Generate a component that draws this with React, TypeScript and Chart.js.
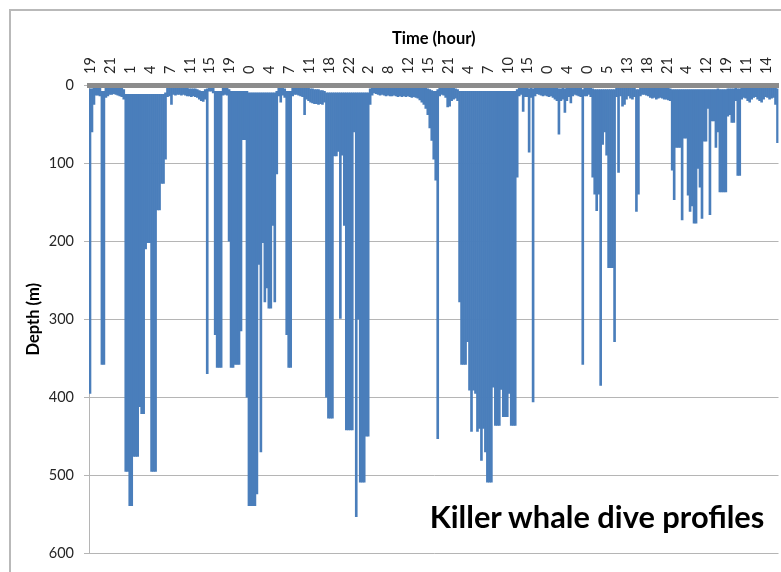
import React, { useEffect, useRef } from 'react';
import { Chart, registerables } from 'chart.js';

Chart.register(...registerables);

// Hour labels shown along the top axis (one every 10 samples)
const hourLabels: string[] = [
  '19', '21', '1', '4', '7', '11', '15', '19', '0', '4', '7', '11', '18', '22', '2', '8', '12', '15',
  '21', '4', '7', '10', '15', '0', '4', '0', '5', '13', '18', '21', '4', '12', '19', '11', '14',
];
const samplesPerLabel = 10;

// Maximum depth (m) reached within each sample window
const depthBottom: number[] = [
  395, 60, 25, 13, 13, 14, 358, 358, 16, 14,
  12, 12, 11, 12, 13, 14, 15, 18, 495, 495,
  539, 539, 476, 476, 476, 412, 421, 421, 210, 202,
  202, 495, 495, 495, 160, 160, 126, 126, 95, 15,
  14, 25, 12, 13, 12, 12, 13, 12, 13, 14,
  14, 15, 14, 15, 16, 18, 20, 21, 18, 370,
  8, 8, 10, 320, 362, 362, 362, 13, 12, 13,
  200, 362, 362, 358, 358, 358, 315, 70, 70, 400,
  539, 539, 539, 539, 524, 230, 470, 202, 278, 260,
  286, 286, 180, 278, 114, 14, 22, 13, 16, 320,
  362, 362, 14, 12, 12, 13, 14, 15, 38, 18,
  20, 22, 23, 24, 24, 25, 24, 25, 22, 400,
  427, 427, 427, 91, 91, 85, 299, 90, 180, 442,
  442, 442, 442, 60, 553, 300, 509, 509, 509, 450,
  450, 25, 13, 10, 11, 12, 13, 12, 13, 14,
  13, 14, 14, 13, 14, 15, 14, 15, 14, 15,
  14, 15, 16, 15, 16, 17, 19, 22, 25, 30,
  38, 55, 71, 95, 122, 453, 14, 12, 13, 16,
  28, 27, 20, 18, 17, 20, 278, 358, 358, 358,
  329, 391, 444, 391, 395, 444, 440, 481, 440, 470,
  509, 509, 509, 387, 436, 436, 436, 390, 425, 425,
  425, 395, 436, 436, 436, 118, 14, 12, 34, 15,
  15, 86, 16, 406, 14, 11, 12, 13, 14, 13,
  14, 15, 14, 16, 18, 20, 63, 20, 18, 35,
  20, 15, 23, 14, 12, 13, 14, 15, 358, 14,
  14, 12, 15, 118, 140, 161, 140, 385, 76, 60,
  90, 234, 234, 234, 329, 15, 112, 14, 27, 25,
  18, 14, 17, 18, 15, 162, 140, 14, 12, 12,
  13, 14, 16, 17, 16, 18, 17, 16, 17, 18,
  18, 19, 20, 109, 147, 80, 80, 80, 173, 68,
  68, 141, 162, 155, 177, 177, 107, 131, 171, 72,
  72, 30, 166, 46, 46, 80, 60, 137, 137, 137,
  137, 40, 38, 48, 48, 20, 116, 116, 18, 16,
  17, 20, 22, 18, 16, 15, 18, 20, 22, 18,
  15, 16, 18, 17, 16, 25, 74,
];

// Shallowest depth (m) within each sample window
const depthTop: number[] = [
  5, 5, 3, 2, 2, 2, 8, 8, 3, 3,
  2, 2, 2, 2, 2, 3, 4, 6, 12, 12,
  12, 12, 12, 12, 12, 12, 12, 12, 12, 12,
  12, 12, 12, 12, 12, 12, 12, 12, 10, 3,
  2, 2, 3, 3, 4, 4, 4, 4, 4, 4,
  5, 5, 5, 5, 6, 7, 8, 8, 6, 5,
  1, 1, 2, 8, 8, 8, 8, 4, 3, 3,
  6, 8, 8, 8, 8, 8, 8, 8, 8, 8,
  10, 10, 10, 10, 10, 10, 10, 10, 10, 10,
  10, 10, 10, 10, 8, 3, 3, 3, 5, 8,
  8, 8, 3, 2, 2, 2, 2, 3, 3, 4,
  4, 5, 5, 6, 6, 6, 7, 7, 8, 10,
  10, 10, 10, 10, 10, 10, 10, 10, 10, 10,
  10, 10, 10, 10, 10, 10, 10, 10, 10, 10,
  10, 5, 2, 1, 1, 1, 1, 1, 1, 1,
  1, 1, 1, 1, 1, 1, 1, 1, 1, 2,
  2, 2, 2, 2, 2, 3, 3, 3, 4, 4,
  5, 6, 7, 8, 8, 6, 3, 2, 2, 3,
  3, 3, 3, 4, 5, 6, 8, 8, 8, 8,
  8, 8, 8, 8, 8, 8, 8, 8, 8, 8,
  8, 8, 8, 8, 8, 8, 8, 8, 8, 8,
  8, 8, 8, 8, 8, 6, 3, 2, 2, 3,
  3, 5, 4, 5, 3, 1, 1, 1, 2, 2,
  2, 2, 3, 3, 4, 4, 5, 5, 4, 5,
  4, 3, 3, 3, 2, 2, 2, 3, 6, 3,
  2, 2, 3, 5, 6, 6, 6, 6, 6, 6,
  6, 6, 6, 6, 6, 3, 4, 3, 3, 3,
  4, 3, 3, 3, 4, 6, 6, 3, 2, 2,
  2, 2, 2, 3, 3, 3, 3, 3, 3, 4,
  4, 4, 5, 6, 6, 6, 6, 6, 6, 6,
  6, 6, 6, 6, 6, 6, 6, 6, 6, 6,
  6, 6, 6, 6, 6, 6, 5, 6, 6, 6,
  6, 5, 5, 5, 5, 4, 5, 5, 3, 3,
  3, 3, 3, 3, 3, 3, 3, 3, 4, 3,
  3, 3, 3, 3, 3, 4, 5,
];

const depthTicks: number[] = [0, 100, 200, 300, 400, 500, 600];

export default function App() {
  const canvasRef = useRef<HTMLCanvasElement | null>(null);

  useEffect(() => {
    const canvas = canvasRef.current;
    if (!canvas) return;
    const categories = depthBottom.map((_, i) => String(i));
    const tickFont = { family: 'Lato', size: 14.5 };
    const titleFont = { family: 'Lato', size: 16.5, weight: 'bold' as const };
    const chart = new Chart(canvas, {
      type: 'bar',
      data: {
        labels: categories,
        datasets: [
          {
            data: depthBottom.map((b, i) => [depthTop[i], b]) as any,
            backgroundColor: '#4a7ebb',
            borderWidth: 0,
            barPercentage: 1,
            categoryPercentage: 1,
          },
        ],
      },
      options: {
        responsive: false,
        animation: false,
        devicePixelRatio: 1,
        layout: { padding: { left: 0, top: 0, right: 2.5, bottom: 11 } },
        plugins: { legend: { display: false }, tooltip: { enabled: false } },
        scales: {
          x: {
            type: 'category',
            position: 'top',
            offset: true,
            grid: { display: true, drawOnChartArea: false, drawTicks: false },
            border: { display: true, color: '#8c8c8c', width: 5, z: 1 },
            ticks: {
              autoSkip: false,
              minRotation: 90,
              maxRotation: 90,
              padding: 11,
              labelOffset: 18,
              color: '#262626',
              font: tickFont,
              callback: (_v: any, i: number) =>
                i % samplesPerLabel === 0 ? hourLabels[i / samplesPerLabel] : null,
            },
            title: {
              display: true,
              text: 'Time (hour)',
              color: '#000',
              font: titleFont,
              padding: { top: 29, bottom: 0 },
            },
            afterFit: (s: any) => {
              s.height = 85;
            },
          },
          y: {
            reverse: true,
            min: 0,
            max: 600,
            afterBuildTicks: (s: any) => {
              s.ticks = depthTicks.map((v) => ({ value: v }));
            },
            ticks: { padding: 10, color: '#262626', font: tickFont },
            grid: { color: '#b5b5b5', lineWidth: 1, tickLength: 5 },
            border: { color: '#b5b5b5', width: 1 },
            title: {
              display: true,
              text: 'Depth (m)',
              color: '#000',
              font: titleFont,
              padding: { top: 24, bottom: 0 },
            },
            afterFit: (s: any) => {
              s.width = 89;
            },
          },
        },
      } as any,
    });
    return () => chart.destroy();
  }, []);

  return (
    <div
      style={{
        position: 'fixed',
        left: 0,
        top: 0,
        width: 781,
        height: 572,
        overflow: 'hidden',
        background: '#fff',
      }}
    >
      <div
        style={{
          position: 'absolute',
          left: 9,
          top: 9,
          width: 900,
          height: 700,
          border: '2px solid #b9b9b9',
          boxSizing: 'border-box',
        }}
      />
      <canvas
        ref={canvasRef}
        width={781}
        height={572}
        style={{ position: 'absolute', left: 0, top: 0, width: 781, height: 572 }}
      />
      <div
        style={{
          position: 'absolute',
          left: 417,
          top: 501,
          width: 360,
          textAlign: 'center',
          whiteSpace: 'nowrap',
          fontFamily: 'Lato',
          fontWeight: 'bold',
          fontSize: 30.8,
          lineHeight: '31px',
          color: '#000',
        }}
      >
        Killer whale dive profiles
      </div>
    </div>
  );
}
